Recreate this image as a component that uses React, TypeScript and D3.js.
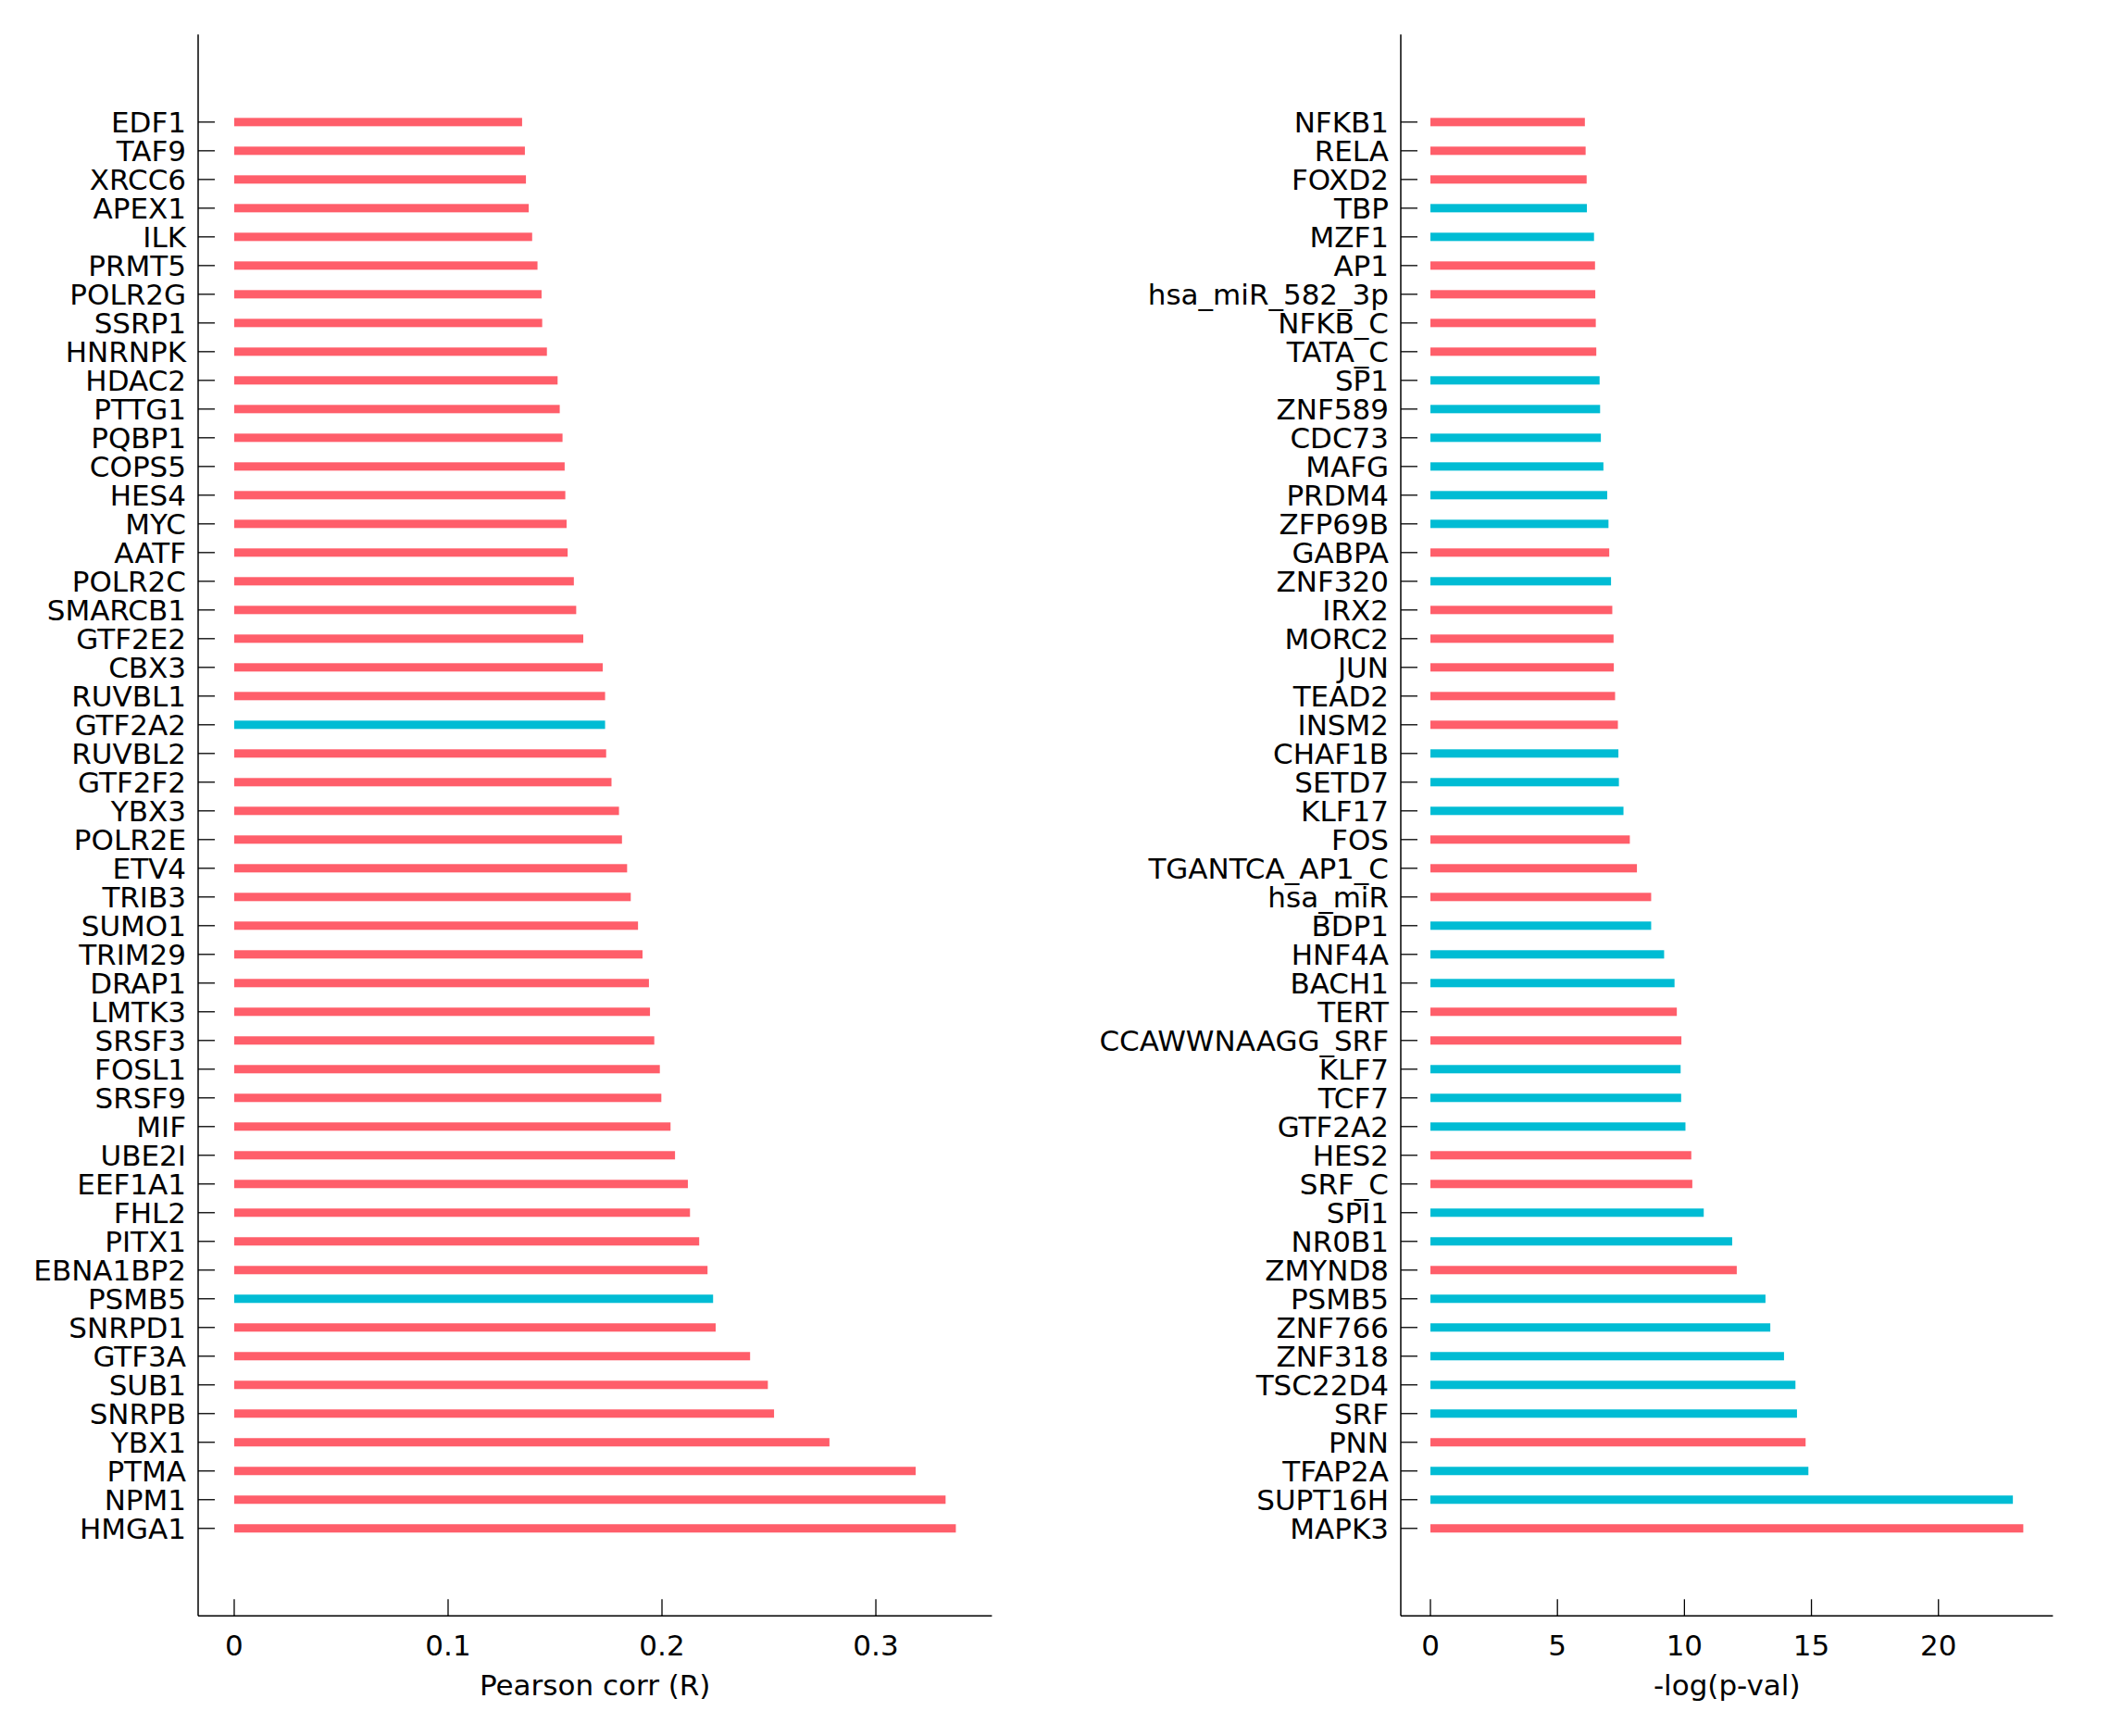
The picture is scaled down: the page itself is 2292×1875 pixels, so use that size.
import React from "react";
import * as d3 from "d3";

const leftNames = ["EDF1","TAF9","XRCC6","APEX1","ILK","PRMT5","POLR2G","SSRP1","HNRNPK","HDAC2","PTTG1","PQBP1","COPS5","HES4","MYC","AATF","POLR2C","SMARCB1","GTF2E2","CBX3","RUVBL1","GTF2A2","RUVBL2","GTF2F2","YBX3","POLR2E","ETV4","TRIB3","SUMO1","TRIM29","DRAP1","LMTK3","SRSF3","FOSL1","SRSF9","MIF","UBE2I","EEF1A1","FHL2","PITX1","EBNA1BP2","PSMB5","SNRPD1","GTF3A","SUB1","SNRPB","YBX1","PTMA","NPM1","HMGA1"];
const leftValues = [0.1346,0.1359,0.1364,0.1377,0.1393,0.1418,0.1437,0.1440,0.1462,0.1512,0.1522,0.1535,0.1545,0.1548,0.1554,0.1559,0.1588,0.1599,0.1632,0.1723,0.1734,0.1734,0.1739,0.1764,0.1799,0.1813,0.1837,0.1854,0.1888,0.1909,0.1939,0.1944,0.1964,0.1990,0.1997,0.2040,0.2061,0.2121,0.2131,0.2174,0.2213,0.2239,0.2251,0.2412,0.2495,0.2524,0.2783,0.3186,0.3326,0.3374];
const leftGroups = ["r","r","r","r","r","r","r","r","r","r","r","r","r","r","r","r","r","r","r","r","r","b","r","r","r","r","r","r","r","r","r","r","r","r","r","r","r","r","r","r","r","b","r","r","r","r","r","r","r","r"];

const rightNames = ["NFKB1","RELA","FOXD2","TBP","MZF1","AP1","hsa_miR_582_3p","NFKB_C","TATA_C","SP1","ZNF589","CDC73","MAFG","PRDM4","ZFP69B","GABPA","ZNF320","IRX2","MORC2","JUN","TEAD2","INSM2","CHAF1B","SETD7","KLF17","FOS","TGANTCA_AP1_C","hsa_miR","BDP1","HNF4A","BACH1","TERT","CCAWWNAAGG_SRF","KLF7","TCF7","GTF2A2","HES2","SRF_C","SPI1","NR0B1","ZMYND8","PSMB5","ZNF766","ZNF318","TSC22D4","SRF","PNN","TFAP2A","SUPT16H","MAPK3"];
const rightValues = [6.08,6.11,6.15,6.16,6.44,6.48,6.49,6.51,6.53,6.66,6.68,6.71,6.81,6.96,7.01,7.04,7.11,7.16,7.21,7.22,7.27,7.38,7.40,7.42,7.60,7.85,8.13,8.69,8.69,9.20,9.61,9.70,9.88,9.85,9.87,10.04,10.27,10.31,10.76,11.88,12.06,13.19,13.38,13.92,14.37,14.43,14.77,14.88,22.93,23.34];
const rightGroups = ["r","r","r","b","b","r","r","r","r","b","b","b","b","b","b","r","b","r","r","r","r","r","b","b","b","r","r","r","b","b","b","r","r","b","b","b","r","r","b","b","r","b","b","b","b","b","r","b","b","r"];

const leftTicks = [0, 0.1, 0.2, 0.3];
const rightTicks = [0, 5, 10, 15, 20];

const COLORS: Record<string, string> = { r: "#ff5e6a", b: "#00bcd4" };
const FONT = "'DejaVu Sans', sans-serif";

type PanelProps = {
  names: string[];
  values: number[];
  groups: string[];
  ticks: number[];
  title: string;
  x0: number;
  x1: number;
};

const TOP = 37.3;
const BOTTOM = 1745.3;

function Panel({ names, values, groups, ticks, title, x0, x1 }: PanelProps) {
  const max = d3.max(values) as number;
  const x = d3.scaleLinear().domain([-0.05 * max, 1.05 * max]).range([x0, x1]);
  const y = d3.scalePoint<string>().domain(names.map((_, i) => String(i))).range([TOP, BOTTOM]).padding(3.05);
  const barH = 9;
  const tickLen = 18;
  const fmt = (v: number) => String(v);
  return (
    <g>
      {values.map((v, i) => {
        const cy = y(String(i)) as number;
        return (
          <rect key={"b" + i} x={x(0)} y={cy - barH / 2} width={x(v) - x(0)} height={barH} fill={COLORS[groups[i]]} />
        );
      })}
      {/* y axis */}
      <line x1={x0} x2={x0} y1={TOP} y2={BOTTOM} stroke="#000" strokeWidth={1.5} />
      {names.map((n, i) => {
        const cy = y(String(i)) as number;
        return (
          <g key={"t" + i}>
            <line x1={x0} x2={x0 + tickLen} y1={cy} y2={cy} stroke="#000" strokeWidth={1.3} />
            <text x={x0 - 13} y={cy + 11.5} textAnchor="end" fontFamily={FONT} fontSize={31} fill="#000">{n}</text>
          </g>
        );
      })}
      {/* x axis */}
      <line x1={x0} x2={x1} y1={BOTTOM} y2={BOTTOM} stroke="#000" strokeWidth={1.5} />
      {ticks.map((t) => (
        <g key={"x" + t}>
          <line x1={x(t)} x2={x(t)} y1={BOTTOM} y2={BOTTOM - tickLen} stroke="#000" strokeWidth={1.3} />
          <text x={x(t)} y={1788} textAnchor="middle" fontFamily={FONT} fontSize={31} fill="#000">{fmt(t)}</text>
        </g>
      ))}
      <text x={(x0 + x1) / 2} y={1831} textAnchor="middle" fontFamily={FONT} fontSize={31} fill="#000">{title}</text>
    </g>
  );
}

export default function App() {
  return (
    <svg width={2292} height={1875} style={{ position: "absolute", left: 0, top: 0, background: "#fff" }}>
      <rect x={0} y={0} width={2292} height={1875} fill="#fff" />
      <Panel names={leftNames} values={leftValues} groups={leftGroups} ticks={leftTicks} title="Pearson corr (R)" x0={214} x1={1071.4} />
      <Panel names={rightNames} values={rightValues} groups={rightGroups} ticks={rightTicks} title="-log(p-val)" x0={1513} x1={2217.4} />
    </svg>
  );
}
